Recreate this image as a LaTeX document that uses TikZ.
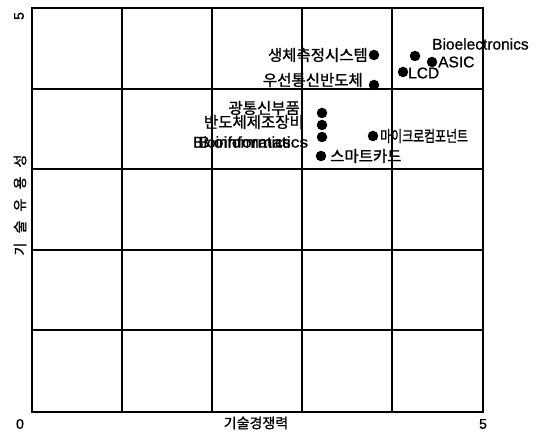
\documentclass[tikz,border=0pt]{standalone}
\usepackage{fontspec}
\setmainfont[RawFeature={embolden=0.8}]{Liberation Sans}
\newfontfamily\kr[RawFeature={embolden=1.2}]{Noto Sans CJK KR}
\begin{document}
\begin{tikzpicture}[x=1pt,y=-1pt,
  dot/.style={circle,fill=black,inner sep=0pt,minimum size=10.5pt},
  krlab/.style={inner sep=0pt,font=\kr\fontsize{15.5}{16}\selectfont},
  enlab/.style={inner sep=0pt,font=\fontsize{15.5}{16}\selectfont},
  axnum/.style={inner sep=0pt,font=\fontsize{14}{15}\selectfont},
  axkr/.style={inner sep=0pt,font=\kr\fontsize{14}{15}\selectfont},
  gridline/.style={line width=1.2pt},
  frameline/.style={line width=2.2pt}]
\useasboundingbox (0,0) rectangle (539,433);
% grid
\foreach \x in {122,212,302,392} \draw[gridline] (\x,8) -- (\x,412);
\foreach \y in {89,169,250,330} \draw[gridline] (32,\y) -- (483,\y);
\draw[frameline] (32,8) rectangle (483,412);
% axis numbers and titles
\node[axnum,rotate=90] (ytop) at (19,16) {5};
\node[axnum] (orig) at (20,424) {0};
\node[axnum] (xend) at (483,424) {5};
\node[axkr] (xlab) at (256,423) {기술경쟁력};
\node[axkr,rotate=90] (y1) at (20,249) {기};
\node[axkr,rotate=90] (y2) at (20,227) {술};
\node[axkr,rotate=90] (y3) at (20,205) {유};
\node[axkr,rotate=90] (y4) at (20,183) {용};
\node[axkr,rotate=90] (y5) at (20,161) {성};
% data points
\node[dot] (d1) at (374,55) {};
\node[krlab,anchor=east] (l1) at (368,55) {생체측정시스템};
\node[dot] (d2) at (374,85) {};
\node[krlab,anchor=east] (l2) at (363,80) {우선통신반도체};
\node[dot] (d3) at (415,56) {};
\node[enlab,anchor=west] (l3) at (432,44) {Bioelectronics};
\node[dot] (d4) at (432,62) {};
\node[enlab,anchor=west] (l4) at (438,62) {ASIC};
\node[dot] (d5) at (403,72) {};
\node[enlab,anchor=west] (l5) at (408,73) {LCD};
\node[dot] (d6) at (322,113) {};
\node[krlab,anchor=east] (l6) at (300,108) {광통신부품};
\node[dot] (d7) at (322,125) {};
\node[krlab,anchor=east] (l7) at (304,122) {반도체제조장비};
\node[dot] (d8) at (322,137) {};
\node[enlab,anchor=west] (l8a) at (193,142) {Bioinformatics};
\node[enlab,anchor=west] (l8b) at (198,142) {\scalebox{1.13}[1]{Bioinformatics}};
\node[dot] (d9) at (321,156) {};
\node[krlab,anchor=west] (l9) at (330,156) {스마트카드};
\node[dot] (d10) at (373,136) {};
\node[krlab,anchor=west] (l10) at (380,136) {\scalebox{0.77}[1]{마이크로컴포넌트}};
\end{tikzpicture}
\end{document}
